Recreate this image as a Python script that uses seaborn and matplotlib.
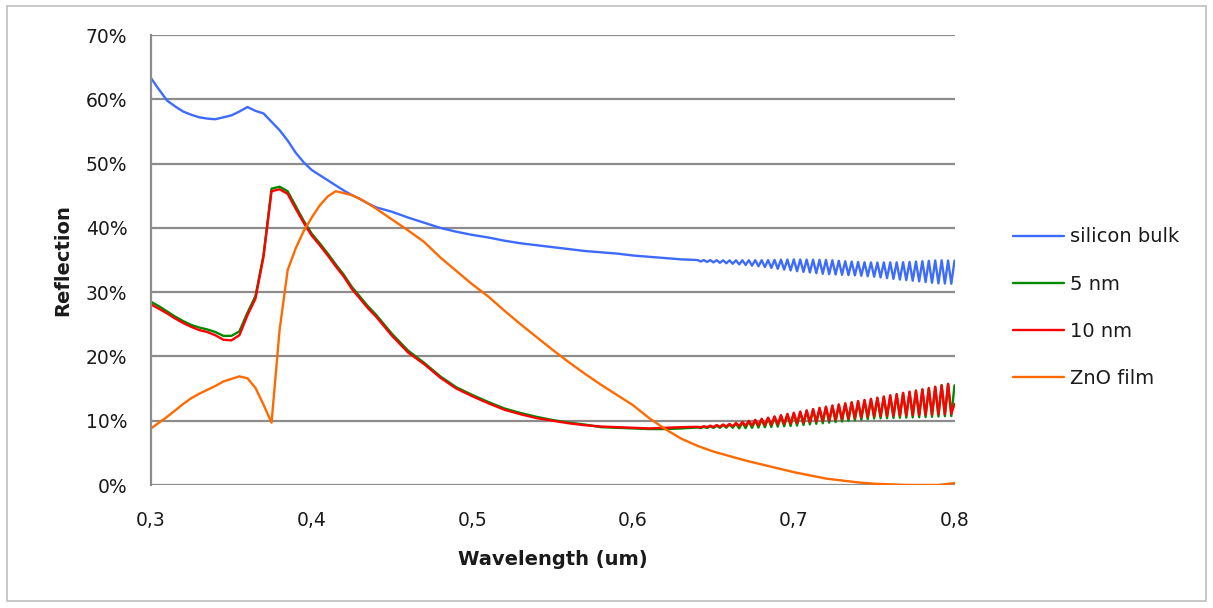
import numpy as np
import pandas as pd
import matplotlib
matplotlib.use("Agg")
import matplotlib.pyplot as plt
from matplotlib.patches import Rectangle
from matplotlib.ticker import FuncFormatter
import seaborn as sns

# wavelength grids (um)
wl_uv = [0.300, 0.305, 0.310, 0.315, 0.320, 0.325, 0.330, 0.335, 0.340, 0.345,
         0.350, 0.355, 0.360, 0.365, 0.370, 0.375, 0.380, 0.385, 0.390, 0.395,
         0.400, 0.405, 0.410, 0.415, 0.420, 0.425, 0.430, 0.435, 0.440]
wl_vis = [0.45, 0.46, 0.47, 0.48, 0.49, 0.50, 0.51, 0.52, 0.53, 0.54,
          0.55, 0.56, 0.57, 0.58, 0.59, 0.60, 0.61, 0.62, 0.63]
# fine grid where the thin-film fringes show up
wl_ir = [0.640, 0.642, 0.644, 0.646, 0.648, 0.650, 0.652, 0.654, 0.656, 0.658,
         0.660, 0.662, 0.664, 0.666, 0.668, 0.670, 0.672, 0.674, 0.676, 0.678,
         0.680, 0.682, 0.684, 0.686, 0.688, 0.690, 0.692, 0.694, 0.696, 0.698,
         0.700, 0.702, 0.704, 0.706, 0.708, 0.710, 0.712, 0.714, 0.716, 0.718,
         0.720, 0.722, 0.724, 0.726, 0.728, 0.730, 0.732, 0.734, 0.736, 0.738,
         0.740, 0.742, 0.744, 0.746, 0.748, 0.750, 0.752, 0.754, 0.756, 0.758,
         0.760, 0.762, 0.764, 0.766, 0.768, 0.770, 0.772, 0.774, 0.776, 0.778,
         0.780, 0.782, 0.784, 0.786, 0.788, 0.790, 0.792, 0.794, 0.796, 0.798,
         0.800]
wl_tail = [0.64, 0.65, 0.66, 0.67, 0.68, 0.69, 0.70, 0.71, 0.72, 0.73,
           0.74, 0.75, 0.76, 0.77, 0.78, 0.79, 0.80]

# reflection (%)
silicon_uv = [63.3, 61.5, 59.8, 58.9, 58.1, 57.6, 57.2, 57.0, 56.9, 57.2,
              57.5, 58.1, 58.8, 58.2, 57.8, 56.5, 55.2, 53.6, 51.7, 50.2,
              49.0, 48.2, 47.4, 46.6, 45.8, 45.1, 44.5, 43.8, 43.2]
silicon_vis = [42.5, 41.6, 40.8, 40.0, 39.4, 38.9, 38.5, 38.0, 37.6, 37.3,
               37.0, 36.7, 36.4, 36.2, 36.0, 35.7, 35.5, 35.3, 35.1]
silicon_ir = [35.00, 34.77, 34.99, 34.70, 34.98, 34.63, 34.97, 34.56, 34.96, 34.49,
              34.95, 34.41, 34.96, 34.32, 34.97, 34.23, 34.97, 34.12, 34.97, 34.02,
              34.97, 33.90, 34.99, 33.77, 35.02, 33.63, 35.05, 33.50, 35.07, 33.37,
              35.10, 33.25, 35.08, 33.15, 35.07, 33.06, 35.05, 32.96, 35.03, 32.86,
              35.01, 32.80, 34.95, 32.75, 34.88, 32.70, 34.81, 32.65, 34.75, 32.61,
              34.69, 32.55, 34.65, 32.48, 34.62, 32.41, 34.61, 32.29, 34.62, 32.18,
              34.63, 32.07, 34.63, 31.96, 34.66, 31.88, 34.70, 31.77, 34.76, 31.67,
              34.82, 31.57, 34.88, 31.46, 34.93, 31.36, 34.95, 31.34, 34.92, 31.31,
              34.90]

nm5_uv = [28.5, 27.8, 27.0, 26.2, 25.5, 24.9, 24.5, 24.2, 23.8, 23.2,
          23.2, 23.9, 26.8, 29.4, 35.8, 46.1, 46.4, 45.7, 43.4, 41.1,
          39.1, 37.6, 36.0, 34.3, 32.7, 30.8, 29.3, 27.8, 26.5]
nm5_vis = [23.5, 20.9, 19.0, 16.9, 15.2, 14.0, 12.9, 11.9, 11.2, 10.6,
           10.1, 9.7, 9.4, 9.0, 8.9, 8.8, 8.7, 8.7, 8.8]
nm5_ir = [8.95, 8.85, 9.04, 8.87, 9.13, 8.88, 9.22, 8.90, 9.31, 8.92,
          9.40, 8.90, 9.56, 8.81, 9.72, 8.85, 9.88, 8.89, 10.04, 8.93,
          10.20, 8.98, 10.39, 9.03, 10.58, 9.08, 10.77, 9.13, 10.96, 9.18,
          11.15, 9.25, 11.34, 9.34, 11.53, 9.43, 11.72, 9.52, 11.91, 9.61,
          12.10, 9.70, 12.27, 9.79, 12.45, 9.88, 12.62, 9.98, 12.79, 10.07,
          12.97, 10.16, 13.14, 10.26, 13.31, 10.35, 13.49, 10.38, 13.68, 10.40,
          13.87, 10.43, 14.05, 10.46, 14.24, 10.48, 14.43, 10.51, 14.61, 10.54,
          14.80, 10.57, 15.00, 10.61, 15.20, 10.65, 15.55, 10.69, 15.75, 10.73,
          15.50]

nm10_uv = [28.1, 27.4, 26.7, 25.9, 25.2, 24.6, 24.1, 23.8, 23.3, 22.6,
           22.5, 23.3, 26.4, 29.0, 35.5, 45.7, 46.0, 45.3, 43.0, 40.8,
           38.8, 37.3, 35.7, 34.0, 32.4, 30.5, 29.0, 27.5, 26.2]
nm10_vis = [23.2, 20.6, 18.8, 16.7, 15.0, 13.8, 12.7, 11.7, 11.0, 10.4,
            10.0, 9.6, 9.3, 9.1, 9.0, 8.9, 8.8, 8.9, 9.0]
nm10_ir = [9.05, 8.97, 9.14, 9.00, 9.23, 9.03, 9.32, 9.06, 9.41, 9.09,
           9.50, 9.12, 9.66, 9.16, 9.82, 9.20, 9.98, 9.24, 10.14, 9.28,
           10.30, 9.33, 10.49, 9.38, 10.68, 9.43, 10.87, 9.48, 11.06, 9.53,
           11.25, 9.60, 11.44, 9.69, 11.63, 9.78, 11.82, 9.87, 12.01, 9.96,
           12.20, 10.05, 12.37, 10.14, 12.55, 10.23, 12.72, 10.33, 12.89, 10.42,
           13.07, 10.51, 13.24, 10.61, 13.41, 10.70, 13.59, 10.73, 13.78, 10.75,
           13.97, 10.78, 14.15, 10.81, 14.34, 10.83, 14.53, 10.86, 14.71, 10.89,
           14.90, 10.92, 15.10, 10.96, 15.30, 11.00, 15.50, 11.04, 15.70, 11.08,
           12.60]

zno_uv = [8.8, 9.7, 10.6, 11.6, 12.6, 13.5, 14.2, 14.8, 15.4, 16.1,
          16.5, 16.9, 16.6, 15.1, 12.5, 9.7, 24.1, 33.4, 36.8, 39.5,
          41.6, 43.5, 44.9, 45.7, 45.4, 45.1, 44.5, 43.8, 43.0]
zno_vis = [41.3, 39.6, 37.8, 35.4, 33.3, 31.2, 29.3, 27.1, 25.0, 23.0,
           21.0, 19.1, 17.3, 15.6, 14.0, 12.4, 10.4, 8.7, 7.2]
zno_tail = [6.1, 5.2, 4.5, 3.8, 3.2, 2.6, 2.0, 1.5, 1.0, 0.7,
            0.4, 0.2, 0.1, 0.0, 0.0, 0.0, 0.3]

series_names = ["silicon bulk", "5 nm", "10 nm", "ZnO film"]
series_colors = ["#3D6BFF", "#008A00", "#FF0000", "#FF6A00"]

frames = []
for name, wl, vals in [
    ("silicon bulk", wl_uv + wl_vis + wl_ir, silicon_uv + silicon_vis + silicon_ir),
    ("5 nm", wl_uv + wl_vis + wl_ir, nm5_uv + nm5_vis + nm5_ir),
    ("10 nm", wl_uv + wl_vis + wl_ir, nm10_uv + nm10_vis + nm10_ir),
    ("ZnO film", wl_uv + wl_vis + wl_tail, zno_uv + zno_vis + zno_tail),
]:
    frames.append(pd.DataFrame({"wavelength": wl,
                                "reflection": np.array(vals) / 100.0,
                                "series": name}))
df = pd.concat(frames, ignore_index=True)

sns.set_style("white")
plt.rcParams["font.family"] = ["DejaVu Sans"]

fig = plt.figure(figsize=(12.13, 6.08), dpi=100)
ax = fig.add_axes([0.1245, 0.2023, 0.6624, 0.7401])

sns.lineplot(data=df, x="wavelength", y="reflection", hue="series",
             hue_order=series_names, palette=series_colors,
             estimator=None, sort=False, linewidth=1.7, ax=ax)

ax.set_xlim(0.3, 0.8)
ax.set_ylim(0, 0.7)
ax.set_xticks([0.3, 0.4, 0.5, 0.6, 0.7, 0.8])
ax.set_yticks(np.arange(0, 0.71, 0.1))
ax.xaxis.set_major_formatter(FuncFormatter(lambda v, p: f"{v:.1f}".replace(".", ",")))
ax.yaxis.set_major_formatter(FuncFormatter(lambda v, p: f"{v * 100:.0f}%"))
ax.tick_params(axis="both", length=0, labelsize=13.5, colors="#1A1A1A")
ax.tick_params(axis="y", pad=17)
ax.tick_params(axis="x", pad=19)

ax.grid(axis="y", color="#8C8C8C", linewidth=1.6)
ax.set_axisbelow(True)
for side in ["top", "right", "bottom"]:
    ax.spines[side].set_visible(False)
ax.spines["left"].set_color("#8C8C8C")
ax.spines["left"].set_linewidth(1.6)

ax.set_xlabel("Wavelength (um)", fontsize=14, fontweight="bold", labelpad=14,
              color="#1A1A1A")
ax.set_ylabel("Reflection", fontsize=14, fontweight="bold", labelpad=10,
              color="#1A1A1A")

leg = ax.legend(title=None, frameon=False, fontsize=14, loc="center left",
                bbox_to_anchor=(1.051, 0.394), handlelength=2.6, handletextpad=0.35,
                labelspacing=1.45)
for txt in leg.get_texts():
    txt.set_color("#1A1A1A")

fig.patches.append(Rectangle((0.006, 0.012), 0.988, 0.978, transform=fig.transFigure,
                             fill=False, edgecolor="#BFBFBF", linewidth=1.2))

fig.savefig("out.png", dpi=100)
